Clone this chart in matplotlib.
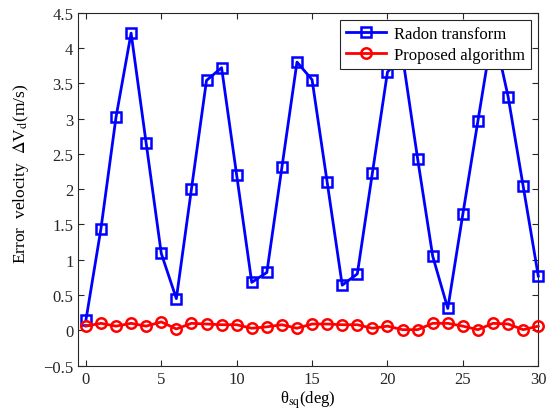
import matplotlib
matplotlib.use("Agg")
import matplotlib.pyplot as plt

# values
theta = list(range(31))
radon = [0.14, 1.44, 3.02, 4.21, 2.65, 1.09, 0.45, 2.0, 3.54, 3.72,
         2.2, 0.68, 0.82, 2.31, 3.8, 3.55, 2.1, 0.64, 0.8, 2.23,
         3.66, 3.88, 2.43, 1.05, 0.31, 1.65, 2.97, 4.28, 3.31, 2.04, 0.77]
proposed = [0.06, 0.10, 0.06, 0.10, 0.06, 0.12, 0.02, 0.10, 0.09, 0.08,
            0.08, 0.03, 0.05, 0.08, 0.03, 0.09, 0.09, 0.08, 0.08, 0.03,
            0.06, 0.01, 0.01, 0.10, 0.10, 0.06, 0.01, 0.10, 0.09, 0.01, 0.06]
xticks = [0, 5, 10, 15, 20, 25, 30]
yticks = [-0.5, 0, 0.5, 1, 1.5, 2, 2.5, 3, 3.5, 4, 4.5]
ytick_labels = ["\u22120.5", "0", "0.5", "1", "1.5", "2", "2.5", "3", "3.5", "4", "4.5"]

plt.rcParams['font.family'] = ['Liberation Serif', 'DejaVu Serif']
plt.rcParams['mathtext.fontset'] = 'stix'
plt.rcParams['font.size'] = 12

fig = plt.figure(figsize=(5.5, 4.14), dpi=100)
ax = fig.add_axes([0.1424, 0.1143, 0.8363, 0.8527])

ax.plot(theta, radon, color='#0000ff', lw=2.0, marker='s', ms=7,
        mfc='none', mec='#0000ff', mew=1.8, label='Radon transform',
        clip_on=False, zorder=3)
ax.plot(theta, proposed, color='#ff0000', lw=2.0, marker='o', ms=7.5,
        mfc='none', mec='#ff0000', mew=1.8, label='Proposed algorithm',
        clip_on=False, zorder=3)

ax.set_xlim(-0.5, 30)
ax.set_ylim(-0.5, 4.5)
ax.set_xticks(xticks)
ax.set_yticks(yticks)
ax.set_yticklabels(ytick_labels)
ax.tick_params(direction='in', top=True, right=True, length=4, width=0.8,
               labelsize=12, colors='#262626')
for sp in ax.spines.values():
    sp.set_color('#262626')
    sp.set_linewidth(0.8)

ax.set_xlabel("θ$_{\\mathrm{sq}}$(deg)", fontsize=12, labelpad=1)
ax.set_ylabel("Error  velocity  $\\Delta$V$_{\\mathrm{d}}$(m/s)", fontsize=12.5)
ax.yaxis.set_label_coords(-0.102, 0.545)

leg = ax.legend(loc='upper right', fancybox=False, framealpha=1,
                edgecolor='#262626', handlelength=2.4, borderpad=0.35,
                labelspacing=0.3, handletextpad=0.5, borderaxespad=0.45,
                fontsize=12)
leg.get_frame().set_linewidth(0.8)
leg.set_zorder(5)

fig.savefig("out.png", dpi=100)
